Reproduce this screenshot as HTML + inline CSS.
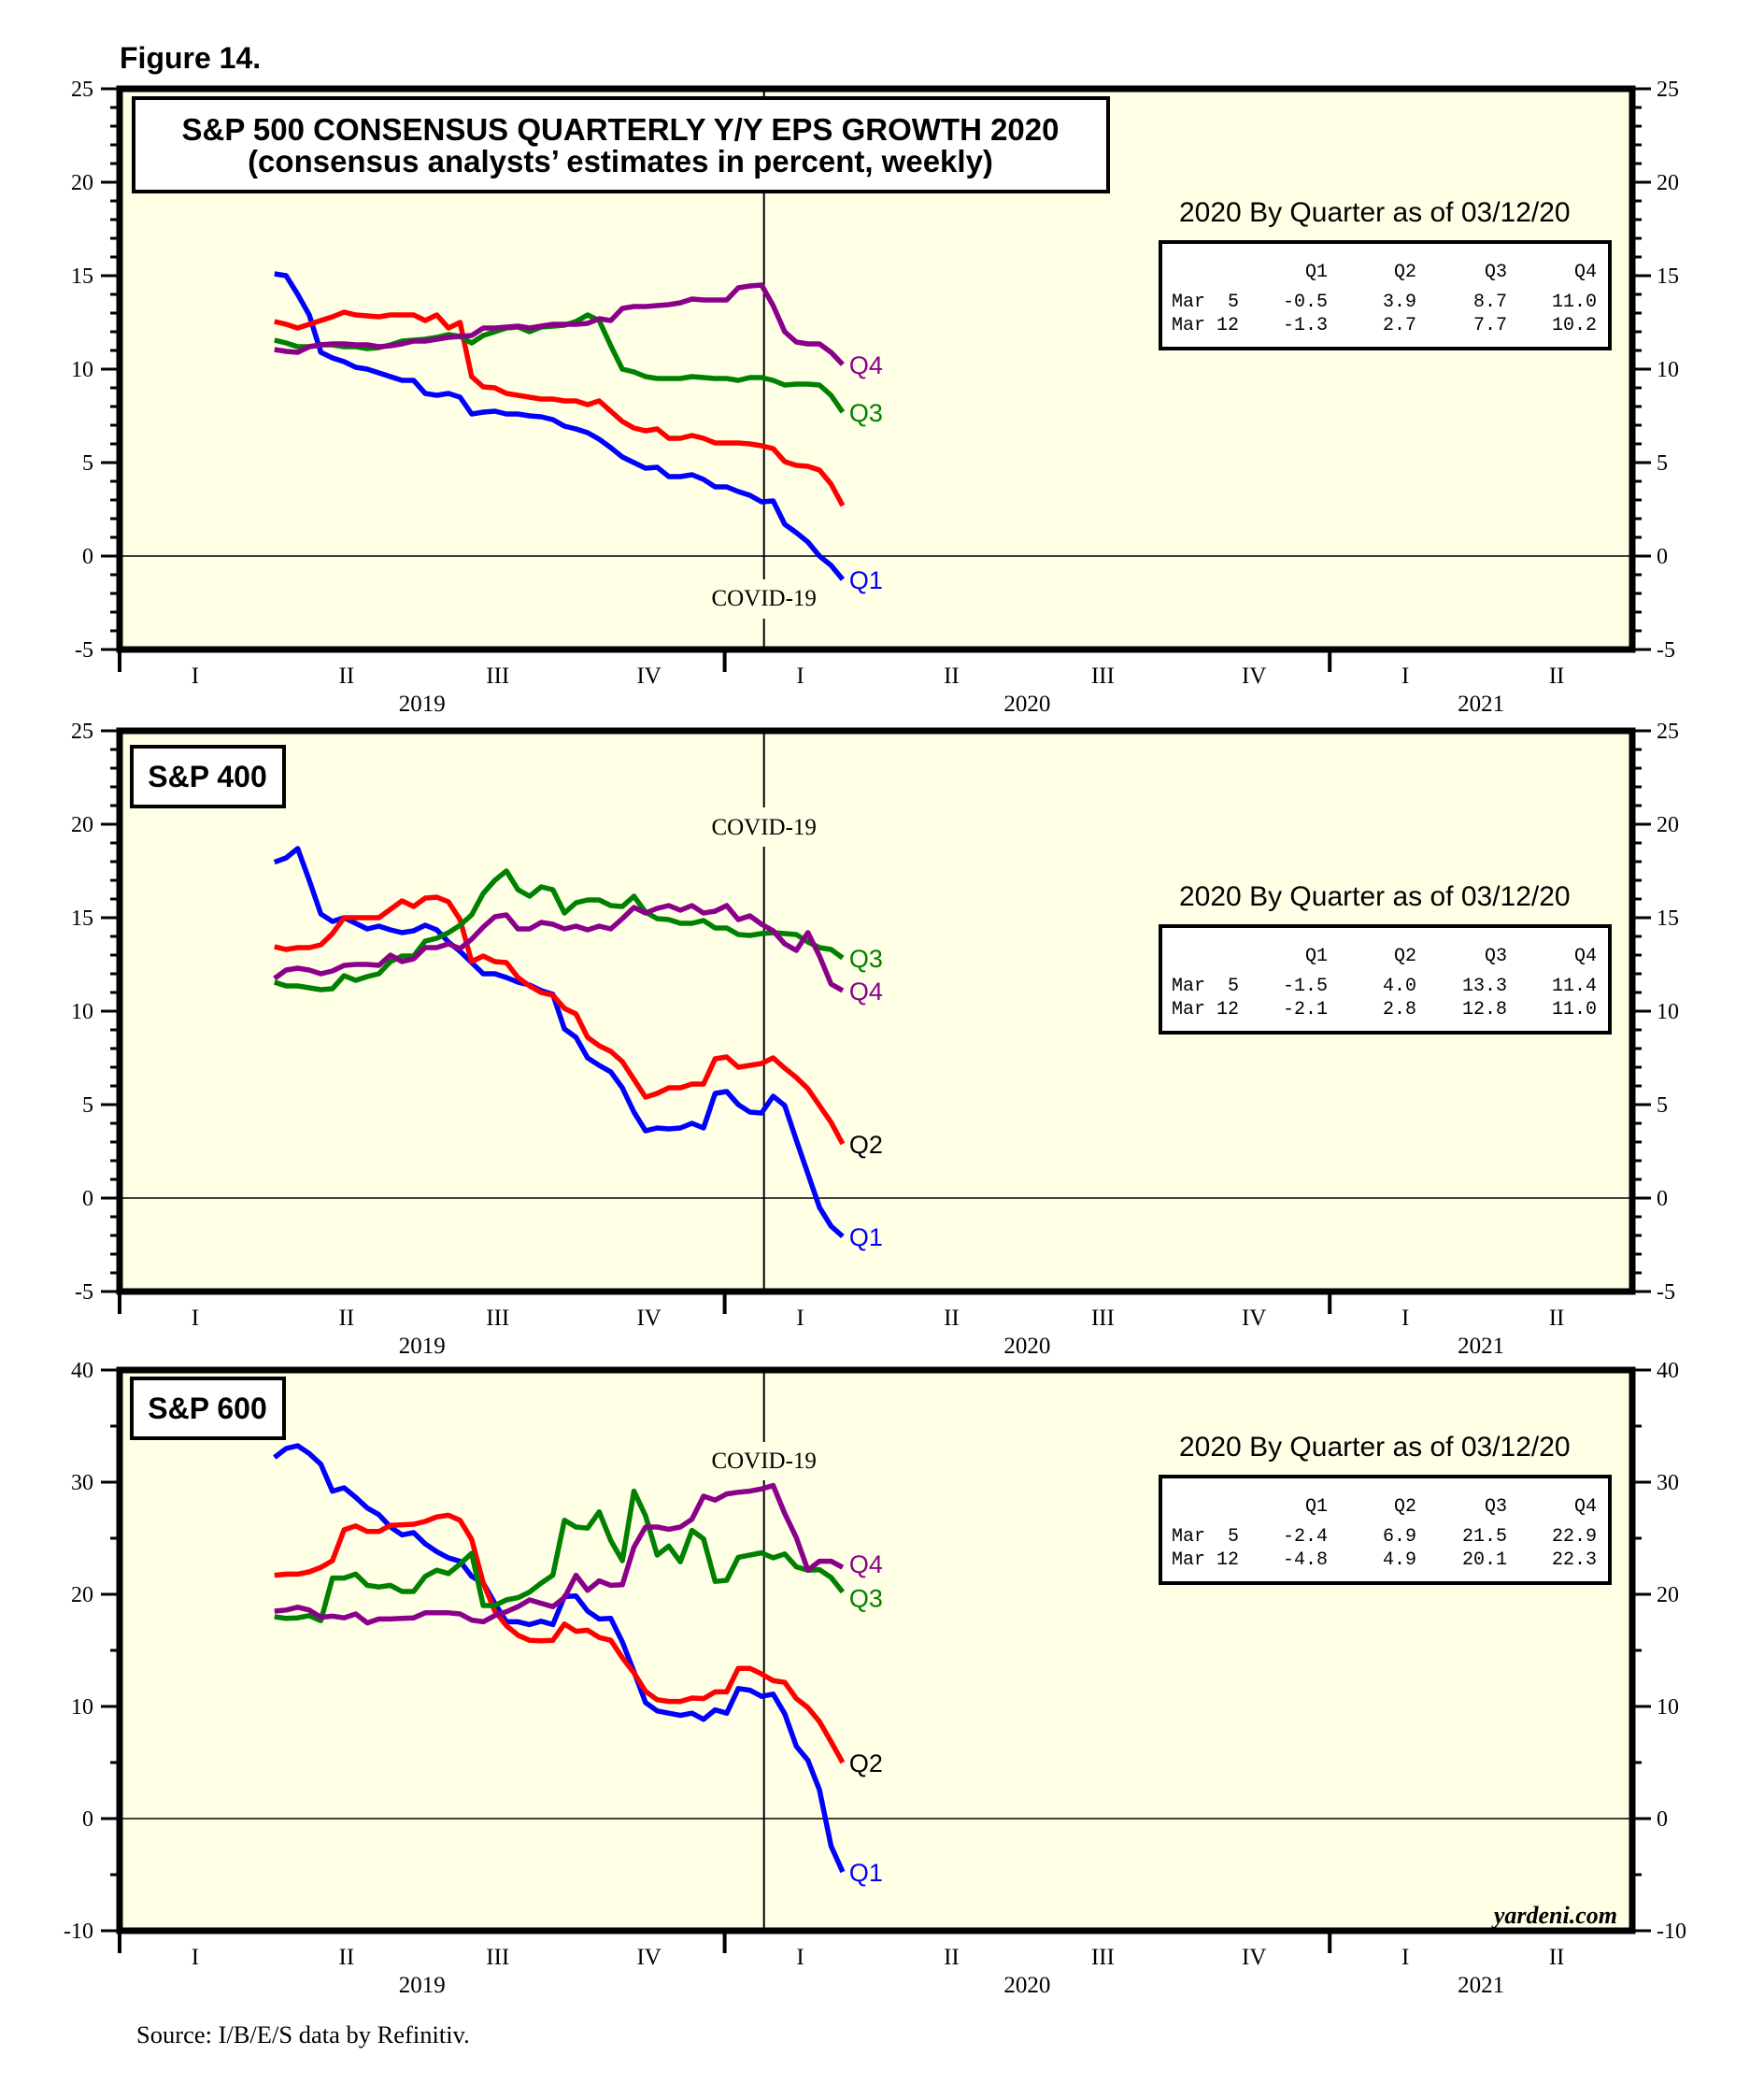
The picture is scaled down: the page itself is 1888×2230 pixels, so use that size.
<!DOCTYPE html>
<html><head><meta charset="utf-8"><style>
html,body{margin:0;padding:0;background:#fff;}
svg{display:block;}
.ser{font-family:"Liberation Serif",serif;}
.san{font-family:"Liberation Sans",sans-serif;}
.mono{font-family:"Liberation Mono",monospace;}
</style></head><body>
<svg id="fig" width="1888" height="2230" viewBox="0 0 1888 2230" xmlns="http://www.w3.org/2000/svg">
<text x="128" y="73" class="san" font-size="32" font-weight="bold">Figure 14.</text>
<text x="146" y="2186" class="ser" font-size="26.5">Source: I/B/E/S data by Refinitiv.</text>
</svg>
<script>
// ---- data (weekly, Apr 4 2019 .. Mar 12 2020) ----
const weekStart = 2019.256;
const weekStep = 7/365.25;
const seriesNames = ["Q1","Q2","Q3","Q4"];
const seriesColors = ["#0000ff","#ff0000","#008000","#8b008b"];

const sp500Q1 = [15.1,15.0,14.0,12.9,10.9,10.6,10.4,10.1,10.0,9.8,9.6,9.4,9.4,8.7,8.6,8.7,8.5,7.6,7.7,7.75,7.6,7.6,7.5,7.45,7.3,6.95,6.8,6.6,6.25,5.8,5.3,5.0,4.7,4.75,4.25,4.25,4.35,4.1,3.7,3.7,3.45,3.25,2.9,2.95,1.7,1.25,0.75,0.0,-0.5,-1.25];
const sp500Q2 = [12.55,12.4,12.2,12.4,12.6,12.8,13.05,12.9,12.85,12.8,12.9,12.9,12.9,12.6,12.9,12.2,12.5,9.6,9.05,9.0,8.7,8.6,8.5,8.4,8.4,8.3,8.3,8.1,8.3,7.75,7.2,6.85,6.7,6.8,6.3,6.3,6.45,6.3,6.05,6.05,6.05,6.0,5.9,5.75,5.05,4.85,4.8,4.6,3.85,2.7];
const sp500Q3 = [11.55,11.4,11.2,11.2,11.3,11.3,11.2,11.2,11.1,11.15,11.3,11.5,11.55,11.6,11.7,11.85,11.75,11.4,11.8,12.0,12.2,12.25,12.0,12.25,12.3,12.35,12.55,12.9,12.6,11.25,10.0,9.85,9.6,9.5,9.5,9.5,9.6,9.55,9.5,9.5,9.4,9.55,9.55,9.4,9.15,9.2,9.2,9.15,8.6,7.7];
const sp500Q4 = [11.05,10.95,10.9,11.2,11.3,11.35,11.35,11.3,11.3,11.2,11.25,11.35,11.5,11.5,11.6,11.7,11.75,11.8,12.2,12.2,12.25,12.3,12.2,12.3,12.4,12.4,12.4,12.45,12.7,12.6,13.25,13.35,13.35,13.4,13.45,13.55,13.75,13.7,13.7,13.7,14.35,14.45,14.5,13.4,12.0,11.45,11.35,11.35,10.9,10.25];

const sp400Q1 = [17.97,18.2,18.7,17.0,15.2,14.8,15.0,14.7,14.4,14.55,14.35,14.2,14.3,14.6,14.35,13.7,13.2,12.6,12.0,12.0,11.8,11.55,11.4,11.1,10.9,9.05,8.6,7.5,7.1,6.75,5.9,4.6,3.6,3.75,3.7,3.75,4.0,3.75,5.6,5.7,5.0,4.6,4.55,5.45,4.95,3.1,1.3,-0.5,-1.5,-2.05];
const sp400Q2 = [13.45,13.3,13.4,13.4,13.55,14.15,15.0,15.0,15.0,15.0,15.45,15.9,15.6,16.05,16.1,15.85,14.9,12.65,12.95,12.65,12.6,11.8,11.35,11.0,10.85,10.15,9.85,8.6,8.15,7.85,7.3,6.35,5.4,5.6,5.9,5.9,6.1,6.1,7.45,7.55,7.0,7.1,7.2,7.5,6.95,6.45,5.85,4.95,4.05,2.9];
const sp400Q3 = [11.55,11.35,11.35,11.25,11.15,11.2,11.9,11.65,11.85,12.0,12.65,12.95,12.95,13.75,13.9,14.2,14.6,15.15,16.3,17.0,17.5,16.5,16.15,16.65,16.5,15.25,15.8,15.95,15.95,15.65,15.6,16.15,15.3,14.95,14.9,14.7,14.7,14.85,14.45,14.45,14.1,14.05,14.15,14.2,14.15,14.1,13.7,13.4,13.3,12.85];
const sp400Q4 = [11.75,12.2,12.3,12.2,12.0,12.15,12.45,12.5,12.5,12.45,13.0,12.65,12.8,13.4,13.4,13.6,13.35,13.85,14.5,15.05,15.15,14.4,14.4,14.75,14.65,14.4,14.55,14.35,14.55,14.4,14.95,15.55,15.25,15.5,15.65,15.4,15.65,15.25,15.35,15.65,14.9,15.1,14.65,14.3,13.6,13.25,14.2,12.95,11.45,11.1];

const sp600Q1 = [32.2,33.0,33.25,32.55,31.6,29.2,29.5,28.65,27.7,27.1,26.0,25.3,25.5,24.5,23.8,23.25,22.95,21.6,21.0,19.2,17.55,17.55,17.3,17.6,17.3,19.8,19.85,18.5,17.8,17.85,15.75,13.1,10.35,9.6,9.4,9.2,9.4,8.85,9.7,9.4,11.6,11.45,10.9,11.1,9.35,6.45,5.2,2.55,-2.45,-4.75];
const sp600Q2 = [21.7,21.8,21.8,22.0,22.4,23.0,25.75,26.1,25.6,25.6,26.15,26.2,26.25,26.5,26.9,27.05,26.6,24.9,21.0,18.5,17.2,16.35,15.9,15.85,15.9,17.35,16.7,16.8,16.15,15.9,14.35,13.0,11.35,10.6,10.45,10.45,10.75,10.7,11.3,11.3,13.4,13.4,12.9,12.3,12.15,10.7,9.9,8.65,6.85,5.0];
const sp600Q3 = [18.0,17.85,17.9,18.1,17.65,21.45,21.45,21.8,20.8,20.65,20.8,20.25,20.25,21.6,22.15,21.85,22.7,23.65,19.0,19.0,19.5,19.7,20.2,21.0,21.7,26.6,26.0,25.9,27.35,24.8,23.0,29.2,27.0,23.5,24.3,22.9,25.7,24.95,21.15,21.25,23.3,23.5,23.7,23.25,23.6,22.45,22.15,22.2,21.5,20.2];
const sp600Q4 = [18.5,18.6,18.85,18.6,17.95,18.05,17.9,18.25,17.45,17.8,17.8,17.85,17.9,18.35,18.35,18.35,18.25,17.7,17.55,18.1,18.45,18.9,19.5,19.2,18.9,19.7,21.7,20.35,21.2,20.8,20.85,24.2,26.0,26.0,25.8,26.0,26.7,28.75,28.4,28.95,29.1,29.2,29.4,29.7,27.2,25.05,22.15,22.95,22.95,22.4];

const tableMar5_500 = ["-0.5","3.9","8.7","11.0"];
const tableMar12_500 = ["-1.3","2.7","7.7","10.2"];
const tableMar5_400 = ["-1.5","4.0","13.3","11.4"];
const tableMar12_400 = ["-2.1","2.8","12.8","11.0"];
const tableMar5_600 = ["-2.4","6.9","21.5","22.9"];
const tableMar12_600 = ["-4.8","4.9","20.1","22.3"];

const yTicks500 = [-5,0,5,10,15,20,25];
const yTicks400 = [-5,0,5,10,15,20,25];
const yTicks600 = [-10,0,10,20,30,40];
const quarterLabels = ["I","II","III","IV"];
const yearLabels = ["2019","2020","2021"];
const covidDate = 2020.065;

// ---- layout ----
const NS = "http://www.w3.org/2000/svg";
const svg = document.getElementById("fig");
const X0 = 128, X1 = 1747, T0 = 2019.0, T1 = 2021.5;
function xOf(t){ return X0 + (t - T0) / (T1 - T0) * (X1 - X0); }
function mk(tag, attrs, parent){
  const e = document.createElementNS(NS, tag);
  for (const k in attrs) e.setAttribute(k, attrs[k]);
  (parent || svg).appendChild(e);
  return e;
}
function txt(s, attrs, parent){ const e = mk("text", attrs, parent); e.textContent = s; return e; }

const panels = [
  {key:"sp500", top:95, ymin:-5, ymax:25, minor:1, ticks:yTicks500, series:[sp500Q1,sp500Q2,sp500Q3,sp500Q4],
   t5:tableMar5_500, t12:tableMar12_500, boxTop:259, covidY:648, gap:[620,662],
   labels:[["Q4",3,"#8b008b",0],["Q3",2,"#008000",0],["Q1",0,"#0000ff",0]]},
  {key:"sp400", top:782, ymin:-5, ymax:25, minor:1, ticks:yTicks400, series:[sp400Q1,sp400Q2,sp400Q3,sp400Q4],
   t5:tableMar5_400, t12:tableMar12_400, boxTop:991, covidY:893, gap:[864,906],
   labels:[["Q3",2,"#008000",0],["Q4",3,"#8b008b",0],["Q2",1,"#000",0],["Q1",0,"#0000ff",0]]},
  {key:"sp600", top:1466, ymin:-10, ymax:40, minor:5, ticks:yTicks600, series:[sp600Q1,sp600Q2,sp600Q3,sp600Q4],
   t5:tableMar5_600, t12:tableMar12_600, boxTop:1580, covidY:1571, gap:[1543,1584],
   labels:[["Q4",3,"#8b008b",-4],["Q3",2,"#008000",6],["Q2",1,"#000",0],["Q1",0,"#0000ff",0]]}
];
const H = 600;

panels.forEach((p, pi) => {
  const g = mk("g", {});
  
  
  const yOf = v => p.top + (p.ymax - v) / (p.ymax - p.ymin) * H;
  const bottom = p.top + H;

  const bg = mk("rect", {x:X0, y:p.top, width:X1-X0, height:H, fill:"#ffffe6"}, g);
  
  

  const z = mk("line", {x1:X0, x2:X1, y1:yOf(0), y2:yOf(0), stroke:"#000", "stroke-width":1.5}, g);
  
  

  const cx = xOf(covidDate);
  const c1 = mk("line", {x1:cx, x2:cx, y1:p.top, y2:p.gap[0], stroke:"#000", "stroke-width":2}, g);
  
  
  const c2 = mk("line", {x1:cx, x2:cx, y1:p.gap[1], y2:bottom, stroke:"#000", "stroke-width":2}, g);
  
  
  const ct = txt("COVID-19", {x:cx, y:p.covidY, "text-anchor":"middle", class:"ser", "font-size":25}, g);
  
  

  p.series.forEach((arr, si) => {
    const pts = arr.map((v, i) => xOf(weekStart + i*weekStep).toFixed(1) + "," + yOf(v).toFixed(1)).join(" ");
    const pl = mk("polyline", {points:pts, fill:"none", stroke:seriesColors[si], "stroke-width":5.5, "stroke-linejoin":"round"}, g);
    
    
  });
  p.labels.forEach(l => {
    const arr = p.series[l[1]];
    const lx = xOf(weekStart + (arr.length-1)*weekStep) + 7;
    const t = txt(l[0], {x:lx, y:yOf(arr[arr.length-1]) + 10 + l[3], class:"san", "font-size":27}, g);
    t.setAttribute('fill', l[2]);
    
    
  });

  for (let v = p.ymin; v <= p.ymax; v += p.minor) {
    const y = yOf(v);
    const major = p.ticks.includes(v);
    const len = major ? 20 : 10;
    mk("line", {x1:X0-len, x2:X0, y1:y, y2:y, stroke:"#000", "stroke-width":3}, g);
    mk("line", {x1:X1, x2:X1+len, y1:y, y2:y, stroke:"#000", "stroke-width":3}, g);
  }
  p.ticks.forEach(v => {
    const y = yOf(v);
    const a = txt(String(v), {x:100, y:y+8, "text-anchor":"end", class:"ser", "font-size":24}, g);
    
    
    const b = txt(String(v), {x:1773, y:y+8, class:"ser", "font-size":24}, g);
    
    
  });

  const fr = mk("rect", {x:X0, y:p.top, width:X1-X0, height:H, fill:"none", stroke:"#000", "stroke-width":7}, g);
  
  

  yearLabels.forEach((yl, yi) => {
    const xs = xOf(2019 + yi);
    mk("line", {x1:xs, x2:xs, y1:bottom, y2:bottom+24, stroke:"#000", "stroke-width":4}, g);
    const yEnd = Math.min(2020 + yi, T1);
    const yt = txt(yl, {x:(xs + xOf(yEnd))/2, y:bottom+66, "text-anchor":"middle", class:"ser", "font-size":25}, g);
    
    
    quarterLabels.forEach((q, qi) => {
      const t0 = 2019 + yi + qi*0.25;
      if (t0 + 0.25 > T1 + 1e-6) return;
      const qt = txt(q, {x:xOf(t0 + 0.125), y:bottom+36, "text-anchor":"middle", class:"ser", "font-size":25}, g);
      
      
    });
  });

  const bx = 1242, bw = 481, bh = 114, by = p.boxTop;
  const hd = txt("2020 By Quarter as of 03/12/20", {x:1262, y:by-22, class:"san", "font-size":30}, g);
  
  
  const tb = mk("rect", {x:bx, y:by, width:bw, height:bh, fill:"#fff", stroke:"#000", "stroke-width":4}, g);
  
  
  const colX = [1421, 1516, 1613, 1709];
  seriesNames.forEach((q, i) => {
    txt(q, {x:colX[i], y:by+37, "text-anchor":"end", class:"mono", "font-size":20}, g);
    txt(p.t5[i], {x:colX[i], y:by+69, "text-anchor":"end", class:"mono", "font-size":20}, g);
    txt(p.t12[i], {x:colX[i], y:by+94, "text-anchor":"end", class:"mono", "font-size":20}, g);
  });
  txt("Mar  5", {x:1254, y:by+69, class:"mono", "font-size":20}, g).setAttribute("style","white-space:pre");
  txt("Mar 12", {x:1254, y:by+94, class:"mono", "font-size":20}, g);
});

const tbx = mk("rect", {x:143, y:105, width:1043, height:100, fill:"#fff", stroke:"#000", "stroke-width":4});


const t1 = txt("S&P 500 CONSENSUS QUARTERLY Y/Y EPS GROWTH 2020", {x:664, y:150, "text-anchor":"middle", class:"san", "font-size":33, "font-weight":"bold"});


const t2 = txt("(consensus analysts\u2019 estimates in percent, weekly)", {x:664, y:184, "text-anchor":"middle", class:"san", "font-size":33, "font-weight":"bold"});



[["S&P 400", 799], ["S&P 600", 1475]].forEach(([s, y]) => {
  const r = mk("rect", {x:141, y:y, width:163, height:64, fill:"#fff", stroke:"#000", "stroke-width":4});
  
  
  const t = txt(s, {x:222, y:y+43, "text-anchor":"middle", class:"san", "font-size":32, "font-weight":"bold"});
  
  
});

const yd = txt("yardeni.com", {x:1731, y:2058, "text-anchor":"end", class:"ser", "font-size":26, "font-weight":"bold", "font-style":"italic"});


</script>
</body></html>
